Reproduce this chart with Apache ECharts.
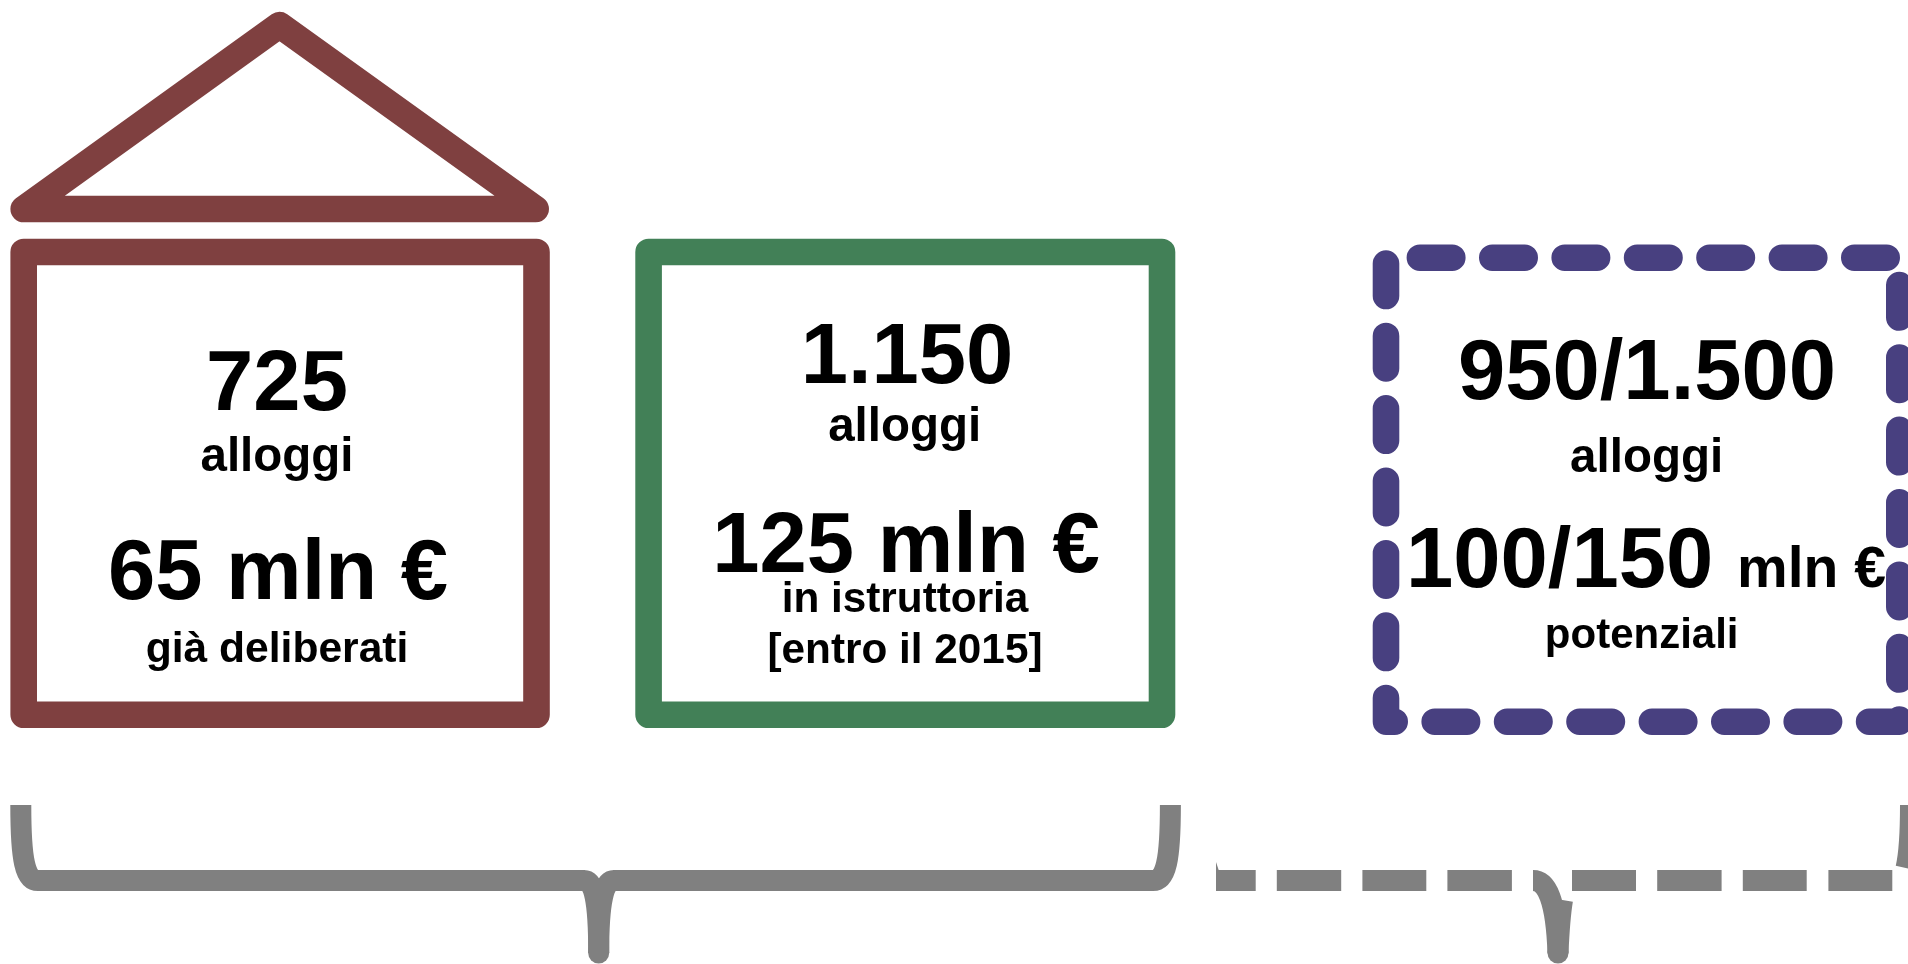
<!DOCTYPE html>
<html>
<head>
<meta charset="utf-8">
<title>Alloggi e investimenti</title>
<style>
  html, body { margin: 0; padding: 0; background: #ffffff; }
  #chart { width: 1908px; height: 964px; }
</style>
<script src="https://cdn.jsdelivr.net/npm/echarts@6/dist/echarts.min.js"></script>
</head>
<body>
<div id="chart"></div>
<script>
// Figures shown in the three panels
const housingCounts = ['725', '1.150', '950/1.500'];
const housingUnit = 'alloggi';
const fundingAmounts = ['65 mln €', '125 mln €', '100/150'];
const fundingSuffix = 'mln €';
const fundingNotes = [['già deliberati'], ['in istruttoria', '[entro il 2015]'], ['potenziali']];

const BROWN = '#7f4040';
const GREEN = '#428057';
const PURPLE = '#484080';
const GREY = '#808080';
const FONT = '"Liberation Sans", Arial, sans-serif';
const STROKE = 26.6;
const BRACE = 21;

// Places a bold label by its baseline (ECharts anchors text on the em middle here)
function label(text, x, baseline, size, align) {
  return {
    type: 'text', z: 1,
    style: {
      text: text, x: x, y: baseline - size * 0.285,
      font: 'bold ' + size + 'px ' + FONT,
      fill: '#000000', align: align || 'center', verticalAlign: 'middle'
    }
  };
}

function box(x0, y0, x1, y1, color, extra) {
  return {
    type: 'rect', z: 2,
    shape: { x: x0, y: y0, width: x1 - x0, height: y1 - y0 },
    style: Object.assign({ fill: 'none', stroke: color, lineWidth: STROKE, lineJoin: 'round' }, extra || {})
  };
}

// One cubic section of a brace outline
function bend(x1, y1, cpx1, cpy1, cpx2, cpy2, x2, y2) {
  return {
    type: 'bezierCurve', z: 3,
    shape: { x1: x1, y1: y1, cpx1: cpx1, cpy1: cpy1, cpx2: cpx2, cpy2: cpy2, x2: x2, y2: y2 },
    style: { fill: 'none', stroke: GREY, lineWidth: BRACE, lineCap: 'butt' }
  };
}

function bar(x0, x1) {
  return {
    type: 'rect', z: 3,
    shape: { x: x0, y: 870, width: x1 - x0, height: 21 },
    style: { fill: GREY }
  };
}

function tip(x, y) {
  return {
    type: 'circle', z: 3,
    shape: { cx: x, cy: y, r: BRACE / 2 },
    style: { fill: GREY }
  };
}

const elements = [
  // Roof over the first panel
  {
    type: 'polygon', z: 2,
    shape: { points: [[23.7, 209], [279.5, 25], [535.7, 209]] },
    style: { fill: 'none', stroke: BROWN, lineWidth: STROKE, lineJoin: 'round' }
  },

  // Panels
  box(23.7, 252, 536.5, 714.8, BROWN),
  box(648.6, 252, 1162, 714.8, GREEN),
  box(1386, 257.7, 1899.3, 721.7, PURPLE, {
    lineCap: 'round', lineDash: [32.4, 40], lineDashOffset: 38.5
  }),

  // First panel text
  label(housingCounts[0], 277, 411, 85),
  label(housingUnit, 277, 471, 47.5),
  label(fundingAmounts[0], 278, 599.3, 85),
  label(fundingNotes[0][0], 277, 662, 42.6),

  // Second panel text
  label(housingCounts[1], 907, 384, 85),
  label(housingUnit, 904.7, 441.7, 47.5),
  label(fundingAmounts[1], 906, 572.7, 85),
  label(fundingNotes[1][0], 905, 612.7, 42.3),
  label(fundingNotes[1][1], 905, 663, 42.3),

  // Third panel text
  label(housingCounts[2], 1647, 399.3, 85),
  label(housingUnit, 1646.6, 472.3, 47.5),
  label(fundingAmounts[2], 1406, 587.7, 85, 'left'),
  label(fundingSuffix, 1737, 587.7, 57, 'left'),
  label(fundingNotes[2][0], 1641.7, 648.3, 42),

  // Solid brace under the first two panels
  bend(20.8, 805, 20.8, 860, 25, 880.5, 38, 880.5),
  bar(38, 585),
  bend(584, 880.5, 594, 880.5, 598.7, 900, 598.7, 953),
  bend(598.7, 953, 598.7, 900, 604, 880.5, 614, 880.5),
  bar(613, 1153),
  bend(1153, 880.5, 1166, 880.5, 1170.4, 860, 1170.4, 805),
  tip(598.7, 953),

  // Dashed brace under the third panel
  bar(1216, 1255.7),
  bar(1276.8, 1341.2),
  bar(1362.4, 1426.3),
  bar(1447.4, 1511.9),
  bar(1572, 1636),
  bar(1657.2, 1721.6),
  bar(1742.8, 1806.7),
  bar(1828.4, 1892.3),
  {
    type: 'polygon', z: 3,
    shape: { points: [[1216, 862], [1219, 871], [1216, 871]] },
    style: { fill: GREY }
  },
  bend(1533, 880.5, 1547, 880.5, 1556, 900, 1558, 953),
  bend(1558, 953, 1559, 930, 1560, 915, 1562.5, 900),
  tip(1558, 953),
  bend(1910.5, 805, 1910.5, 835, 1909, 855, 1906, 868)
];

const chart = echarts.init(document.getElementById('chart'), null, { renderer: 'canvas' });
chart.setOption({
  backgroundColor: '#ffffff',
  animation: false,
  graphic: { elements: elements }
});
</script>
</body>
</html>
